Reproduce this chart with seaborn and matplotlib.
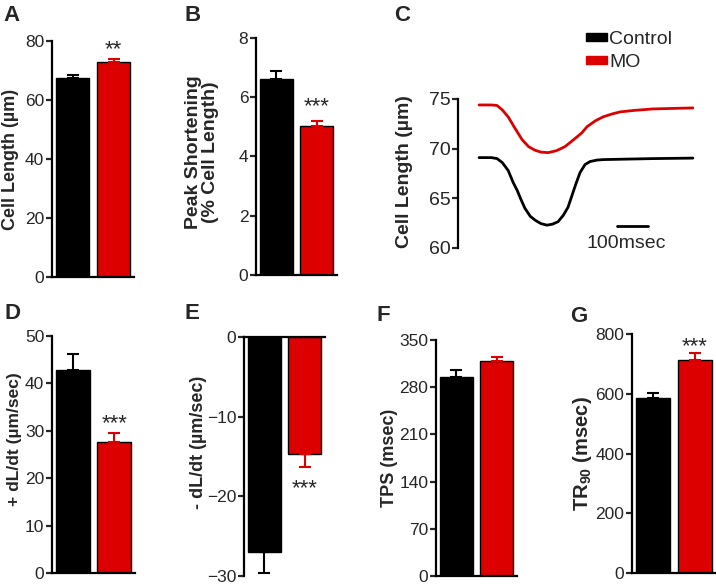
import matplotlib
matplotlib.use('Agg')
from matplotlib import pyplot as plt
from matplotlib.patches import Patch
import seaborn as sns

sns.set_style('ticks')
plt.rcParams['font.family'] = ['Liberation Sans', 'DejaVu Sans']
plt.rcParams['mathtext.fontset'] = 'custom'
plt.rcParams['mathtext.rm'] = 'Liberation Sans'
plt.rcParams['mathtext.bf'] = 'Liberation Sans:bold'

groups = ['Control', 'MO']
colors = ['#000000', '#DD0000']

# bar panels: means and SEM (Control, MO)
cell_length = [67.5, 72.9]
cell_length_sem = [1.0, 1.1]
peak_short = [6.62, 5.03]
peak_short_sem = [0.27, 0.17]
plus_dldt = [42.8, 27.6]
plus_dldt_sem = [3.4, 1.9]
minus_dldt = [-27.0, -14.7]
minus_dldt_sem = [2.6, 1.6]
tps = [295, 319]
tps_sem = [10, 6]
tr90 = [586, 713]
tr90_sem = [17, 23]

# panel C traces (time in msec, cell length in um)
ctrl_t = [0, 40, 58, 75, 94, 110, 123, 135, 148, 165, 181, 200, 219, 237, 255,
          272, 287, 300, 313, 326, 342, 358, 380, 400, 480, 561, 690]
ctrl_len = [69.1, 69.1, 69.0, 68.6, 67.8, 66.6, 65.8, 64.9, 64.0, 63.2, 62.8,
            62.45, 62.3, 62.4, 62.65, 63.3, 64.1, 65.3, 66.5, 67.6, 68.4, 68.7,
            68.85, 68.9, 68.95, 69.0, 69.05]
mo_t = [0, 40, 58, 75, 94, 115, 139, 160, 180, 200, 223, 250, 277, 305, 332,
        348, 375, 400, 430, 455, 500, 561, 625, 690]
mo_len = [74.4, 74.4, 74.35, 73.9, 73.2, 72.1, 70.9, 70.2, 69.85, 69.65, 69.6,
          69.8, 70.2, 70.9, 71.6, 72.2, 72.8, 73.2, 73.5, 73.7, 73.85, 74.0,
          74.05, 74.1]

W, H = 716, 584
fig = plt.figure(figsize=(W / 100, H / 100), dpi=100)


def px_axes(left, right, top, bottom):
    return fig.add_axes([left / W, 1 - bottom / H, (right - left) / W, (bottom - top) / H])


def style_axis(ax, rect, ylim, yticks, ylabel, label_size, label_right, label_dy=0,
               tick_size=12.5, flip=False):
    ax.set_ylim(*ylim)
    ax.set_yticks(yticks)
    ax.set_xticks([])
    ax.set_xlabel('')
    ax.set_ylabel(ylabel, fontsize=label_size, fontweight='bold', linespacing=1.0)
    left, right, top, bottom = rect
    ax.yaxis.set_label_coords((label_right - left) / (right - left),
                              0.5 + label_dy / (bottom - top))
    ax.tick_params(axis='y', labelsize=tick_size, length=4, width=1.6, pad=1.5,
                   direction='out')
    for s in ax.spines.values():
        s.set_linewidth(1.6)
        s.set_color('black')
    ax.spines['right'].set_visible(False)
    if flip:
        ax.spines['bottom'].set_visible(False)
    else:
        ax.spines['top'].set_visible(False)


def bar_panel(rect, vals, sems, ylim, yticks, ylabel, label_size, label_right,
              letter, letter_xy, star=None, star_y=None, label_dy=0, width=0.82):
    ax = px_axes(*rect)
    sns.barplot(x=groups, y=vals, hue=groups, palette=colors, saturation=1,
                width=width, errorbar=None, legend=False, ax=ax,
                edgecolor=colors, linewidth=1)
    for i, (v, e) in enumerate(zip(vals, sems)):
        err = [[e], [0]] if v < 0 else [[0], [e]]
        ax.errorbar(i, v, yerr=err, fmt='none', ecolor=colors[i],
                    elinewidth=1.5, capsize=4, capthick=1.5)
    ax.set_xlim(-0.5, 1.5)
    style_axis(ax, rect, ylim, yticks, ylabel, label_size, label_right, label_dy,
               flip=ylim[1] == 0)
    if star:
        ax.annotate(star, xy=(1, star_y), xytext=(0, -9), textcoords='offset points',
                    ha='center', va='baseline', fontsize=16)
    fig.text(letter_xy[0] / W, 1 - letter_xy[1] / H, letter, fontsize=16,
             fontweight='bold', va='top', ha='left')
    return ax


bar_panel((52, 134, 41, 277), cell_length, cell_length_sem, (0, 80),
          [0, 20, 40, 60, 80], 'Cell Length (µm)', 13, 19, 'A', (3, 5), '**', 79.3)
bar_panel((256, 337, 38, 275), peak_short, peak_short_sem, (0, 8),
          [0, 2, 4, 6, 8], 'Peak Shortening\n(% Cell Length)', 14, 219, 'B', (184, 5),
          '***', 5.92, label_dy=4)
bar_panel((52, 135, 336, 573), plus_dldt, plus_dldt_sem, (0, 50),
          [0, 10, 20, 30, 40, 50], '+ dL/dt (µm/sec)', 12.5, 22, 'D', (4, 303),
          '***', 33.0, label_dy=15)
bar_panel((244, 325, 337, 576), minus_dldt, minus_dldt_sem, (-30, 0),
          [-30, -20, -10, 0], '- dL/dt (µm/sec)', 13, 207, 'E', (184, 303),
          '***', -18.1, label_dy=14)
bar_panel((436, 517, 340, 576), tps, tps_sem, (0, 350),
          [0, 70, 140, 210, 280, 350], 'TPS (msec)', 13, 398, 'F', (377, 305))
bar_panel((632, 716, 334, 573), tr90, tr90_sem, (0, 800),
          [0, 200, 400, 600, 800], r'TR$_\mathbf{90}$ (msec)', 14.5, 594, 'G', (570, 306),
          '***', 780, width=0.8)

# panel C: representative traces
c_rect = (458, 700, 99, 248)
axc = px_axes(*c_rect)
sns.lineplot(x=ctrl_t, y=ctrl_len, color=colors[0], linewidth=2, ax=axc)
sns.lineplot(x=mo_t, y=mo_len, color=colors[1], linewidth=2, ax=axc)
axc.set_xlim(-68, 713)
style_axis(axc, c_rect, (60, 75), [60, 65, 70, 75], 'Cell Length (µm)', 14, 413,
           label_dy=2, tick_size=14)
axc.spines['bottom'].set_visible(False)
axc.spines['left'].set_bounds(60, 75)
axc.plot([445, 545], [62.2, 62.2], color='black', linewidth=2)
axc.text(474, 60.0, '100msec', ha='center', va='baseline', fontsize=14)
fig.text(394 / W, 1 - 5 / H, 'C', fontsize=16, fontweight='bold', va='top', ha='left')

handles = [Patch(facecolor=c, edgecolor=c) for c in colors]
fig.legend(handles, groups, loc='upper left', bbox_to_anchor=(586 / W, 1 - 31 / H),
           frameon=False, fontsize=14, handlelength=1.1, handleheight=0.3,
           handletextpad=0.1, labelspacing=0.3, borderpad=0, borderaxespad=0)

fig.savefig('out.png', dpi=100)
